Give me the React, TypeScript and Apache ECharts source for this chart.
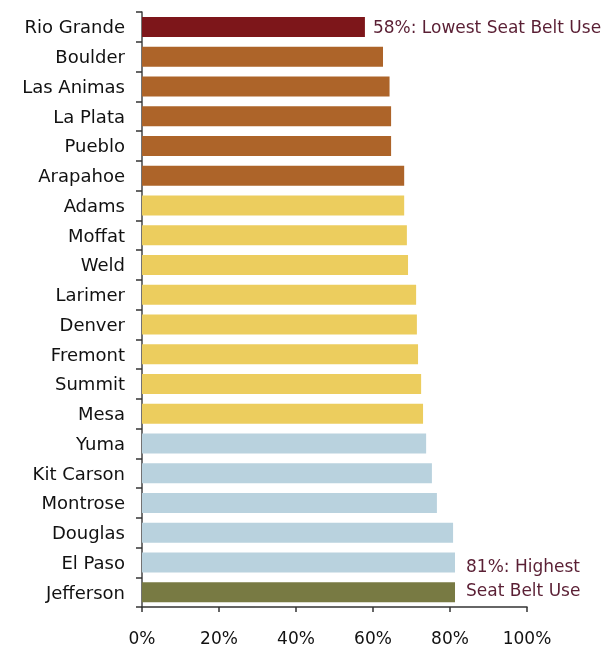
import React, { useEffect, useRef } from "react";
import * as echarts from "echarts";

const counties = [
  "Rio Grande", "Boulder", "Las Animas", "La Plata", "Pueblo", "Arapahoe",
  "Adams", "Moffat", "Weld", "Larimer", "Denver", "Fremont", "Summit", "Mesa",
  "Yuma", "Kit Carson", "Montrose", "Douglas", "El Paso", "Jefferson",
];
const seatBeltUse = [
  57.9, 62.6, 64.3, 64.7, 64.7, 68.1, 68.1, 68.8, 69.1, 71.2, 71.4, 71.7, 72.5,
  73.0, 73.8, 75.3, 76.6, 80.8, 81.3, 81.3,
];
const groups = [
  "lowest", "low", "low", "low", "low", "low",
  "mid", "mid", "mid", "mid", "mid", "mid", "mid", "mid",
  "high", "high", "high", "high", "high", "highest",
];
const groupColors: Record<string, string> = {
  lowest: "#7d161a",
  low: "#ad6429",
  mid: "#eccd5e",
  high: "#b9d2de",
  highest: "#787a43",
};
const annotations: Record<string, string> = {
  "Rio Grande": "58%: Lowest Seat Belt Use",
  Jefferson: "81%: Highest\nSeat Belt Use",
};
const xTicks = [0, 20, 40, 60, 80, 100];

const FONT = "DejaVu Sans";

export default function App() {
  const ref = useRef<HTMLDivElement>(null);
  useEffect(() => {
    if (!ref.current) return;
    const chart = echarts.init(ref.current, null, { renderer: "svg" });
    const data = counties.map((c, i) => {
      const ann = annotations[c];
      const item: any = {
        value: seatBeltUse[i],
        itemStyle: { color: groupColors[groups[i]] },
      };
      if (ann) {
        item.label = {
          show: true,
          position: "right",
          distance: c === "Jefferson" ? 11 : 8,
          offset: c === "Jefferson" ? [0, -14] : [0, 0],
          formatter: ann,
          color: "#5a1f34",
          fontFamily: FONT,
          fontSize: 17,
          lineHeight: 24,
        };
      }
      return item;
    });
    chart.setOption({
      animation: false,
      grid: { left: 142, right: 83, top: 12, bottom: 40, containLabel: false },
      xAxis: {
        type: "value",
        min: xTicks[0],
        max: xTicks[xTicks.length - 1],
        interval: 20,
        axisLine: { show: true, lineStyle: { color: "#333", width: 1.5 } },
        axisTick: { show: true, length: 5, lineStyle: { color: "#333", width: 1.5 } },
        splitLine: { show: false },
        axisLabel: {
          formatter: "{value}%",
          color: "#111",
          fontFamily: FONT,
          fontSize: 17,
          lineHeight: 17,
          margin: 22,
        },
      },
      yAxis: {
        type: "category",
        data: counties,
        inverse: true,
        axisLine: { show: true, lineStyle: { color: "#444", width: 1.5 } },
        axisTick: { show: true, length: 6, lineStyle: { color: "#333", width: 1.5 } },
        axisLabel: {
          color: "#111",
          fontFamily: FONT,
          fontSize: 18,
          margin: 17,
        },
      },
      series: [
        {
          type: "bar",
          data,
          barWidth: 20,
          label: { show: false },
        },
      ],
    });
    return () => chart.dispose();
  }, []);
  return (
    <div
      ref={ref}
      style={{ position: "fixed", left: 0, top: 0, width: 610, height: 647 }}
    />
  );
}
